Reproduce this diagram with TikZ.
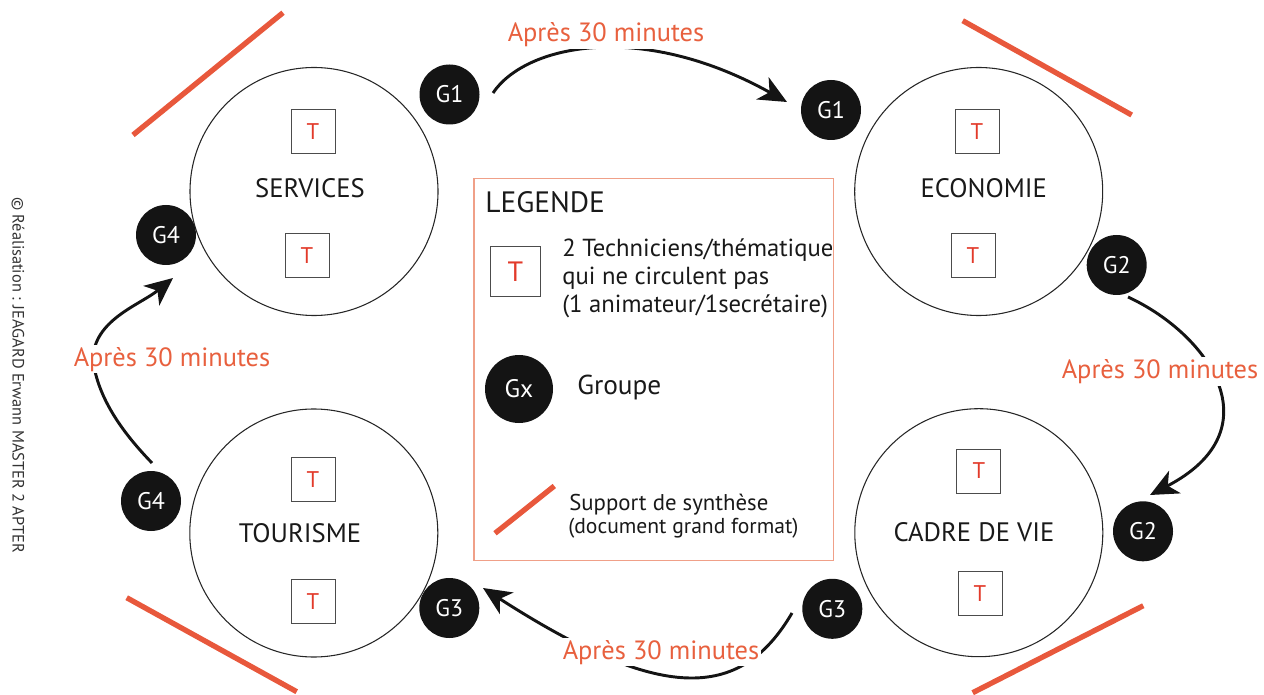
\documentclass[tikz,border=0pt]{standalone}
\usepackage{fontspec}
\setmainfont{PT Sans}
\usetikzlibrary{arrows.meta}
\definecolor{accent}{HTML}{E8583C}
\definecolor{accenttext}{HTML}{E8603E}
\definecolor{tred}{HTML}{E23A2A}
\definecolor{legendline}{HTML}{F0A088}
\newcommand{\fs}[1]{\fontsize{#1}{#1}\selectfont}
\begin{document}
\begin{tikzpicture}[x=0.75pt,y=-0.75pt,
  theme/.style={circle, draw=black!85, line width=0.8pt, minimum size=186pt, inner sep=0pt},
  themelabel/.style={font=\fs{20}, text=black!90, inner sep=0pt},
  grp/.style={circle, fill=black!92, text=white, minimum size=45pt, inner sep=0pt, font=\fs{18}},
  tbox/.style={draw=black!70, line width=0.75pt, minimum size=33pt, inner sep=0pt, text=tred, font=\fs{17}},
  support/.style={draw=accent, line width=4pt},
  arr/.style={-{Stealth[length=21pt,width=19pt,inset=6pt]}, line width=2.2pt, black!92},
  lbl/.style={text=accenttext, fill=white, inner sep=1.5pt, font=\fs{19.8}, anchor=base},
  legtext/.style={anchor=base west, inner sep=0pt, text=black!90}
]
\useasboundingbox (0,0) rectangle (1264,695);

% side credit
\node[rotate=-90, font=\fs{12.3}, text=black!80, inner sep=0pt] (credit) at (18,375) {© Réalisation : JEAGARD Erwann MASTER 2 APTER};

% support lines
\draw[support] (133,135) -- (283,12.7);
\draw[support] (962.7,20.7) -- (1131.7,115);
\draw[support] (126.7,597.7) -- (296.7,691.7);
\draw[support] (1143.3,605.7) -- (972.7,692.7);

% theme circles
\node[theme] (services) at (314,191.5) {};
\node[theme] (economie) at (978.7,191.5) {};
\node[theme] (tourisme) at (313.8,533) {};
\node[theme] (cadre) at (978.8,532.7) {};

\node[themelabel] (servicesl) at (310,188) {SERVICES};
\node[themelabel] (economiel) at (983.8,188) {ECONOMIE};
\node[themelabel] (tourismel) at (300,533) {TOURISME};
\node[themelabel] (cadrel) at (974,532) {CADRE DE VIE};

% technician boxes
\node[tbox] (ts1) at (313,131.5) {T};
\node[tbox] (ts2) at (307,256) {T};
\node[tbox] (te1) at (977,131.5) {T};
\node[tbox] (te2) at (973,256) {T};
\node[tbox] (tt1) at (313,479.5) {T};
\node[tbox] (tt2) at (313,601.7) {T};
\node[tbox] (tc1) at (978.8,471) {T};
\node[tbox] (tc2) at (980,593.3) {T};

% groups
\node[grp] (g1a) at (449.5,94.5) {G1};
\node[grp] (g1b) at (831,110) {G1};
\node[grp] (g2a) at (1116.7,265) {G2};
\node[grp] (g2b) at (1143,531.3) {G2};
\node[grp] (g3a) at (832.3,608.8) {G3};
\node[grp] (g3b) at (449.3,608) {G3};
\node[grp] (g4a) at (151,501) {G4};
\node[grp] (g4b) at (166,235) {G4};

% arrow end points (gaps next to the group discs)
\coordinate (a1s) at (493,93);   \coordinate (a1e) at (787,102);
\coordinate (a2s) at (1128,297); \coordinate (a2e) at (1150,495);
\coordinate (a3s) at (792,613);  \coordinate (a3e) at (483,588);
\coordinate (a4s) at (152,463);  \coordinate (a4e) at (173,278);
\coordinate (a4m) at (93,360);

\draw[arr] (a1s) .. controls (525,45) and (640,20) .. (a1e);
\draw[arr] (a2s) .. controls (1210,335) and (1275,430) .. (a2e);
\draw[arr] (a3s) .. controls (740,702) and (660,702) .. (a3e);
\draw[arr] (a4s) .. controls (125,435) and (98,400) .. (a4m) .. controls (93,320) and (140,305) .. (a4e);

\node[lbl] (l1) at (606,41.7) {Après 30 minutes};
\node[lbl] (l2) at (1160,378.3) {Après 30 minutes};
\node[lbl] (l3) at (661,659) {Après 30 minutes};
\node[lbl] (l4) at (172,366) {Après 30 minutes};

% legend
\draw[legendline, line width=1.1pt] (474,178.3) rectangle (833.3,560.5);
\node[legtext, font=\fs{22.1}] (legtitle) at (485,213) {LEGENDE};
\node[tbox, minimum size=37.5pt, font=\fs{21}] (legt) at (515.5,271.7) {T};
\node[legtext, font=\fs{18.5}] (leg1) at (562,257) {2 Techniciens/thématique};
\node[legtext, font=\fs{18.5}] (leg2) at (562,285) {qui ne circulent pas};
\node[legtext, font=\fs{18.5}] (leg3) at (562,313) {(1 animateur/1secrétaire)};
\node[grp, minimum size=51pt, font=\fs{19}] (leggx) at (519,389) {Gx};
\node[legtext, font=\fs{20.5}, anchor=west] (leggroupe) at (577,388) {Groupe};
\draw[support] (495,533.3) -- (554.3,486);
\node[legtext, font=\fs{17.1}] (legsup1) at (569,510) {Support de synthèse};
\node[legtext, font=\fs{16.2}] (legsup2) at (568,533) {(document grand format)};
\end{tikzpicture}
\end{document}
